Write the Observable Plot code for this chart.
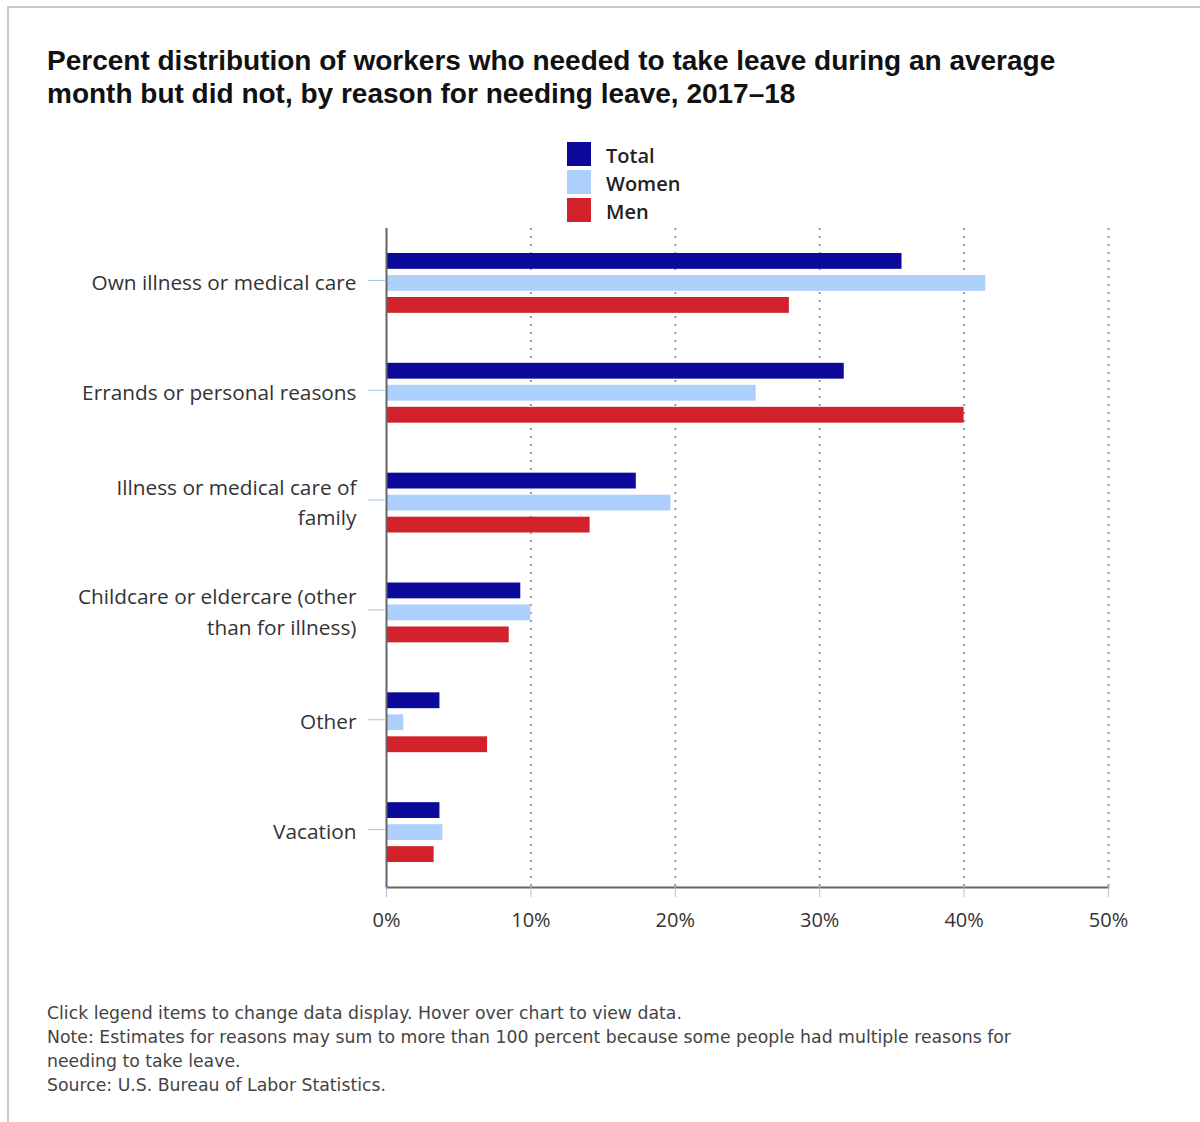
<!DOCTYPE html>
<html>
<head>
<meta charset="utf-8">
<script src="https://cdn.jsdelivr.net/npm/d3@7"></script>
<script src="https://cdn.jsdelivr.net/npm/@observablehq/plot@0.6"></script>
<style>
  html, body { margin: 0; padding: 0; background: #fff; }
  body { width: 1200px; height: 1122px; position: relative; overflow: hidden; }
  #frame { position: absolute; left: 7px; top: 6px; width: 1400px; height: 1400px;
           border-top: 2px solid #c8c8c8; border-left: 2px solid #c8c8c8; }
  #title { position: absolute; left: 47px; top: 44px; font-family: "Liberation Sans", Arial, sans-serif;
           font-weight: bold; font-size: 28px; line-height: 33px; color: #111; }
  #legend { position: absolute; left: 567px; top: 142px; font-family: "Open Sans", sans-serif;
            font-weight: 600; font-size: 20px; color: #222; }
  .li { height: 28px; display: flex; align-items: flex-start; }
  .sw { width: 24px; height: 24px; margin-right: 15px; }
  .lt { line-height: 24px; padding-top: 2px; }
  #chart { position: absolute; left: 0; top: 225px; }
  #chart svg { display: block; }
  #footer { position: absolute; left: 47px; top: 1001px; font-family: "DejaVu Sans", sans-serif;
            font-size: 17.3px; line-height: 24px; color: #444; white-space: nowrap; }
</style>
</head>
<body>
<div id="frame"></div>
<div id="title"></div>
<div id="legend"></div>
<div id="chart"></div>
<div id="footer"></div>
<script>
const titleLines = ["Percent distribution of workers who needed to take leave during an average",
                    "month but did not, by reason for needing leave, 2017\u201318"];
const reasons = ["Own illness or medical care", "Errands or personal reasons",
                 "Illness or medical care of family", "Childcare or eldercare (other than for illness)",
                 "Other", "Vacation"];
const reasonLabels = ["Own illness or medical care", "Errands or personal reasons",
                      "Illness or medical care of\nfamily", "Childcare or eldercare (other\nthan for illness)",
                      "Other", "Vacation"];
const series = ["Total", "Women", "Men"];
const totalValues = [35.7, 31.7, 17.3, 9.3, 3.7, 3.7];
const womenValues = [41.5, 25.6, 19.7, 10.0, 1.2, 3.9];
const menValues   = [27.9, 40.0, 14.1, 8.5, 7.0, 3.3];
const seriesColors = ["#0c0a9a", "#acd0fb", "#d2212a"];
const xTicks = [0, 10, 20, 30, 40, 50];
const footerLines = ["Click legend items to change data display. Hover over chart to view data.",
  "Note: Estimates for reasons may sum to more than 100 percent because some people had multiple reasons for",
  "needing to take leave.",
  "Source: U.S. Bureau of Labor Statistics."];

document.getElementById("title").innerHTML = titleLines.join("<br>");
document.getElementById("footer").innerHTML = footerLines.join("<br>");
const legend = document.getElementById("legend");
series.forEach((s, i) => {
  const row = document.createElement("div"); row.className = "li";
  const sw = document.createElement("div"); sw.className = "sw"; sw.style.background = seriesColors[i];
  const t = document.createElement("div"); t.className = "lt"; t.textContent = s;
  row.appendChild(sw); row.appendChild(t); legend.appendChild(row);
});

const valuesBySeries = [totalValues, womenValues, menValues];
const data = reasons.flatMap((r, i) => series.map((s, j) => ({reason: r, series: s, value: valuesBySeries[j][i]})));
const labelOf = new Map(reasons.map((r, i) => [r, reasonLabels[i]]));

const plot = Plot.plot({
  width: 1200, height: 712,
  marginLeft: 386, marginRight: 92, marginTop: 3, marginBottom: 50,
  x: {domain: [0, 50]},
  y: {domain: reasons, padding: 0, round: false},
  style: {fontFamily: "'Open Sans', sans-serif", fontSize: "20px", color: "#333", background: "transparent"},
  marks: [
    Plot.gridX(xTicks.slice(1), {stroke: "#9a9a9a", strokeOpacity: 1, strokeWidth: 2, strokeDasharray: "2 6"}),
    ...series.map((s, j) => Plot.barX(data.filter(d => d.series === s), {
      x: "value", y: "reason", fill: seriesColors[j], insetTop: 47, insetBottom: 47, dy: (j - 1) * 22
    })),
    Plot.ruleX([0], {stroke: "#666", strokeWidth: 2}),
    Plot.frame({anchor: "bottom", stroke: "#666", strokeWidth: 2}),
    Plot.axisX({ticks: xTicks, tickFormat: d => d + "%", tickSize: 10, tickPadding: 15, stroke: "#a8c4e0", fill: "#333", label: null}),
    Plot.axisY({tickSize: 18, tickPadding: 12, stroke: "#a8c4e0", fill: "#333", tickFormat: d => labelOf.get(d),
                lineHeight: 1.45, fontSize: 20.8, textStroke: "none", dy: -3, label: null})
  ]
});
document.getElementById("chart").appendChild(plot);
</script>
</body>
</html>
